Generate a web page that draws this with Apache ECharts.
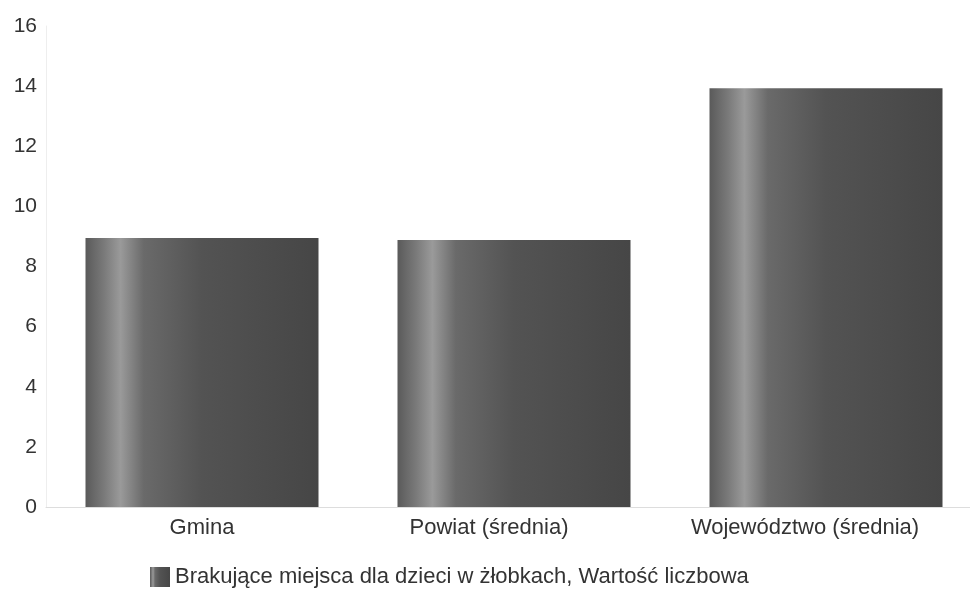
<!DOCTYPE html>
<html>
<head>
<meta charset="utf-8">
<script src="https://cdn.jsdelivr.net/npm/echarts@6/dist/echarts.min.js"></script>
<style>html,body{margin:0;padding:0;background:#fff;overflow:hidden;width:970px;height:589px;}#c{width:982px;height:589px;}</style>
</head>
<body>
<div id="c"></div>
<script>
const categories = ['Gmina', 'Powiat (średnia)', 'Województwo (średnia)'];
const values = [8.95, 8.88, 13.93];
const seriesName = 'Brakujące miejsca dla dzieci w żłobkach, Wartość liczbowa';
const yTicks = [0, 2, 4, 6, 8, 10, 12, 14, 16];

const grad = new echarts.graphic.LinearGradient(0, 0, 1, 0, [
  {offset: 0, color: '#5a5a5a'},
  {offset: 0.08, color: '#7a7a7a'},
  {offset: 0.15, color: '#9a9a9a'},
  {offset: 0.25, color: '#6a6a6a'},
  {offset: 0.5, color: '#535353'},
  {offset: 1, color: '#464646'}
]);

const labelBase = {fontSize: 22, color: '#333', fontFamily: 'Liberation Sans, Arial, sans-serif'};
const chart = echarts.init(document.getElementById('c'));
chart.setOption({
  animation: false,
  textStyle: {fontFamily: 'Liberation Sans, Arial, sans-serif'},
  grid: {left: 46, right: 0, top: 26, bottom: 82, containLabel: false},
  legend: {
    top: 566, left: 150, padding: 0,
    itemWidth: 20, itemHeight: 20, itemGap: 6,
    textStyle: {fontSize: 22, color: '#333'},
    data: [{name: seriesName, icon: 'rect'}]
  },
  xAxis: {
    type: 'category', data: categories,
    axisLine: {lineStyle: {color: '#dddddd'}},
    axisTick: {show: false},
    axisLabel: {
      interval: 0, hideOverlap: false,
      fontSize: 22, color: '#333', margin: 10,
      formatter: (v, i) => `{s${i}|${v}}`,
      rich: {
        s0: Object.assign({}, labelBase),
        s1: Object.assign({padding: [0, 50, 0, 0]}, labelBase),
        s2: Object.assign({padding: [0, 42, 0, 0]}, labelBase)
      }
    }
  },
  yAxis: {
    type: 'value', min: yTicks[0], max: yTicks[yTicks.length - 1], interval: 2,
    axisLine: {show: true, lineStyle: {color: '#eeeeee'}},
    axisTick: {show: false},
    splitLine: {show: false},
    axisLabel: {fontSize: 21, color: '#333', margin: 9}
  },
  series: [{
    name: seriesName, type: 'bar', data: values, barWidth: 233,
    itemStyle: {color: grad}
  }]
});
</script>
</body>
</html>
